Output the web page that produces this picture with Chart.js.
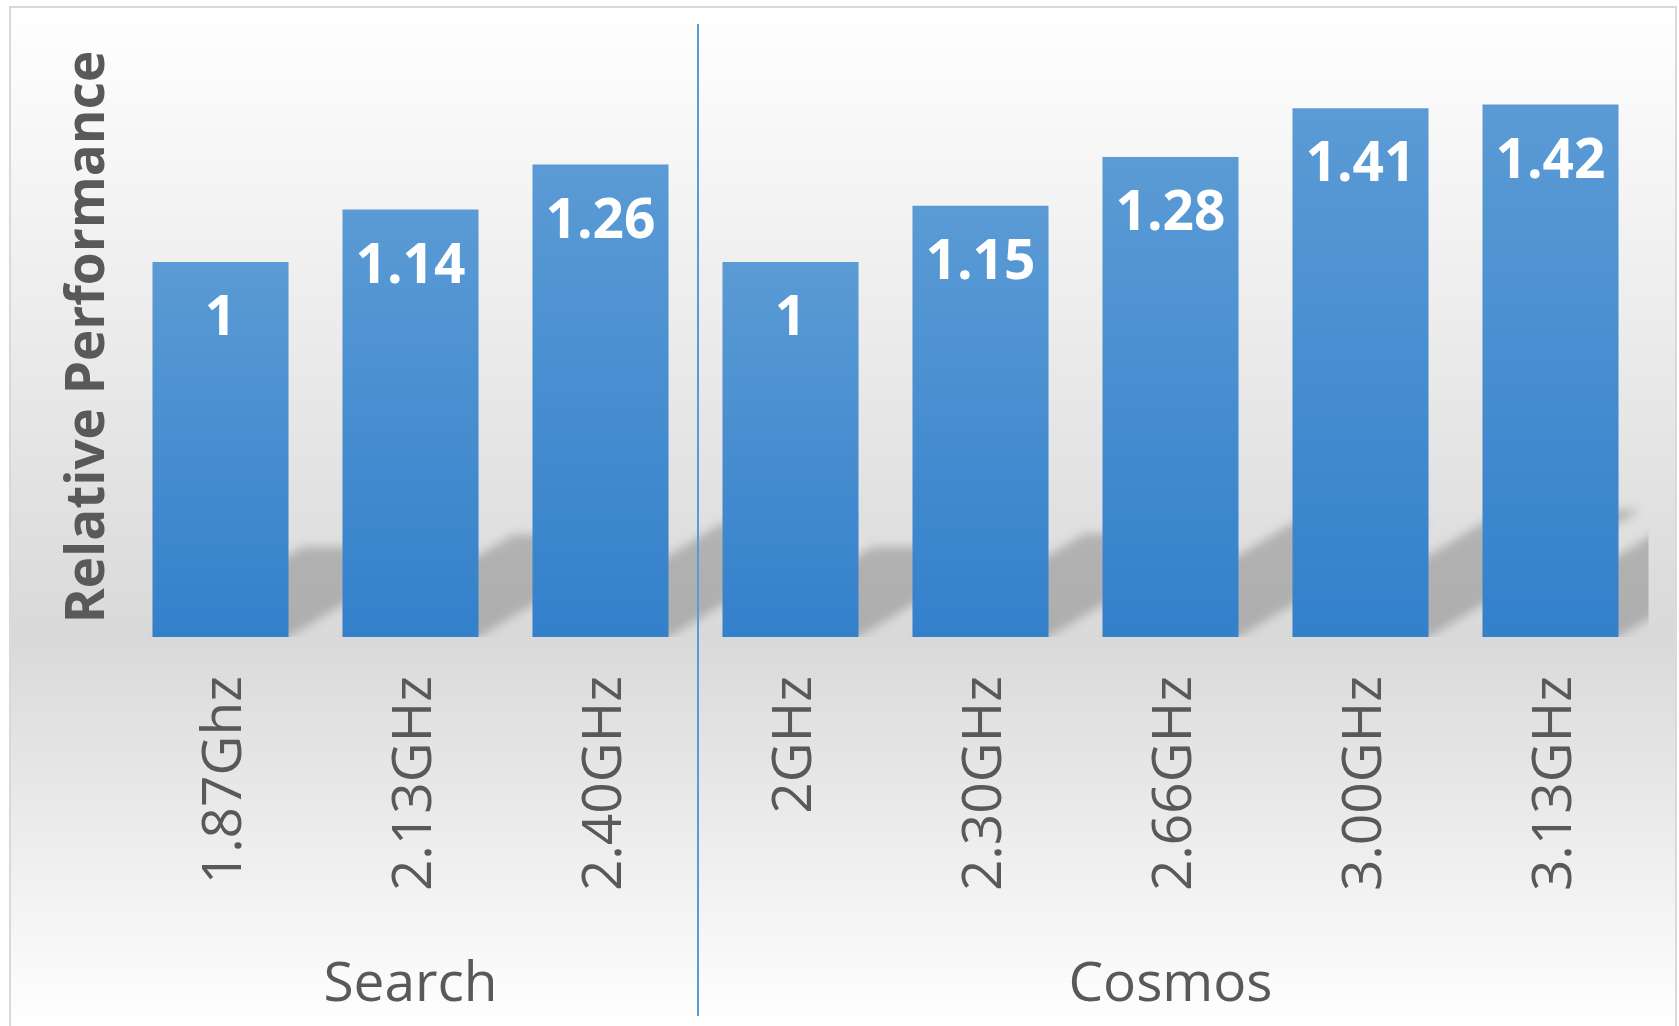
<!DOCTYPE html>
<html>
<head>
<meta charset="utf-8">
<title>Relative Performance</title>
<script src="https://cdn.jsdelivr.net/npm/chart.js@4.4.1/dist/chart.umd.min.js"></script>
<style>
  html, body { margin: 0; padding: 0; background: #fff; }
  canvas { display: block; }
</style>
</head>
<body>
<canvas id="perfChart" width="1679" height="1026"></canvas>
<script>
// Clock speeds per workload, performance relative to the slowest part
const frequencies = ['1.87Ghz', '2.13GHz', '2.40GHz', '2GHz', '2.30GHz', '2.66GHz', '3.00GHz', '3.13GHz'];
const relativePerf = [1, 1.14, 1.26, 1, 1.15, 1.28, 1.41, 1.42];

// Workload groups along the x axis (name + number of bars)
const groupNames = ['Search', 'Cosmos'];
const groupSizes = [3, 5];

const FONT = "'Open Sans', 'DejaVu Sans', sans-serif";
const TEXT_GRAY = '#595959';
const BAR_TOP = '#5b9bd5';
const BAR_BOTTOM = '#3380cb';

// Light-grey panel with a white -> grey -> white vertical fade
const panelBackground = {
  id: 'panelBackground',
  beforeDraw(chart) {
    const { ctx, width, height } = chart;
    ctx.save();
    ctx.fillStyle = '#ffffff';
    ctx.fillRect(0, 0, width, height);
    const g = ctx.createLinearGradient(0, 7, 0, height);
    g.addColorStop(0, '#ffffff');
    g.addColorStop(0.618, '#d9d9d9');
    g.addColorStop(1, '#ffffff');
    ctx.fillStyle = g;
    ctx.fillRect(10, 7, width - 13, height);
    ctx.strokeStyle = '#d9d9d9';
    ctx.lineWidth = 2;
    ctx.strokeRect(10, 7, width - 13, height + 10);
    ctx.restore();
  }
};

// Soft perspective shadow cast up and to the right behind each bar
const barShadows = {
  id: 'barShadows',
  beforeDatasetsDraw(chart) {
    const { ctx, chartArea } = chart;
    const meta = chart.getDatasetMeta(0);
    ctx.save();
    ctx.beginPath();
    ctx.rect(chartArea.left, 0, chartArea.right - chartArea.left + 3, chartArea.bottom);
    ctx.clip();
    ctx.filter = 'blur(5px)';
    ctx.fillStyle = 'rgba(0, 0, 0, 0.2)';
    meta.data.forEach(bar => {
      const { x, y, base, width } = bar.getProps(['x', 'y', 'base', 'width'], true);
      const xl = x - width / 2;
      const xr = x + width / 2;
      const hs = (base - y) * 0.24;
      const dx = hs / 0.6;
      ctx.beginPath();
      ctx.moveTo(xl, base);
      ctx.lineTo(xr, base);
      ctx.lineTo(xr + dx, base - hs);
      ctx.lineTo(xl + dx, base - hs);
      ctx.closePath();
      ctx.fill();
    });
    ctx.restore();
  }
};

// White value labels just inside the top of each bar
const valueLabels = {
  id: 'valueLabels',
  afterDatasetsDraw(chart) {
    const { ctx } = chart;
    const meta = chart.getDatasetMeta(0);
    ctx.save();
    ctx.font = `bold 55px ${FONT}`;
    ctx.fillStyle = '#ffffff';
    ctx.textAlign = 'center';
    ctx.textBaseline = 'alphabetic';
    meta.data.forEach((bar, i) => {
      ctx.fillText(String(relativePerf[i]), bar.x, bar.y + 73);
    });
    ctx.restore();
  }
};

// Group separator and group names under the rotated frequency labels
const groupAxis = {
  id: 'groupAxis',
  afterDraw(chart) {
    const { ctx } = chart;
    const xs = chart.scales.x;
    ctx.save();
    ctx.font = `55px ${FONT}`;
    ctx.fillStyle = TEXT_GRAY;
    ctx.textAlign = 'center';
    ctx.textBaseline = 'alphabetic';
    let start = 0;
    groupNames.forEach((name, g) => {
      const end = start + groupSizes[g] - 1;
      const cx = (xs.getPixelForValue(start) + xs.getPixelForValue(end)) / 2;
      ctx.fillText(name, cx, 1001);
      if (g < groupNames.length - 1) {
        const sep = Math.round((xs.getPixelForValue(end) + xs.getPixelForValue(end + 1)) / 2) + 2;
        ctx.strokeStyle = BAR_TOP;
        ctx.lineWidth = 2;
        ctx.beginPath();
        ctx.moveTo(sep, 24);
        ctx.lineTo(sep, 1016);
        ctx.stroke();
      }
      start = end + 1;
    });
    ctx.restore();
  }
};

function barGradient(c) {
  const chart = c.chart;
  const ys = chart.scales.y;
  if (!ys || c.type !== 'data') return BAR_TOP;
  const top = ys.getPixelForValue(c.raw);
  const bottom = ys.getPixelForValue(0);
  if (!isFinite(top) || !isFinite(bottom)) return BAR_TOP;
  const g = chart.ctx.createLinearGradient(0, top, 0, bottom);
  g.addColorStop(0, BAR_TOP);
  g.addColorStop(1, BAR_BOTTOM);
  return g;
}

Chart.defaults.font.family = FONT;

new Chart(document.getElementById('perfChart'), {
  type: 'bar',
  data: {
    labels: frequencies,
    datasets: [{
      label: 'Relative Performance',
      data: relativePerf,
      backgroundColor: barGradient,
      borderWidth: 0,
      categoryPercentage: 1,
      barPercentage: 0.716
    }]
  },
  options: {
    responsive: false,
    animation: false,
    devicePixelRatio: 1,
    layout: { padding: { top: 37, right: 33.5, bottom: 0, left: 0 } },
    plugins: {
      legend: { display: false },
      tooltip: { enabled: false }
    },
    scales: {
      x: {
        grid: { display: false, drawTicks: false },
        border: { display: false },
        ticks: {
          autoSkip: false,
          minRotation: 90,
          maxRotation: 90,
          padding: 39,
          labelOffset: 5,
          color: TEXT_GRAY,
          font: { size: 55 }
        },
        afterFit(scale) { scale.height = 389; }
      },
      y: {
        min: 0,
        max: 1.6,
        grid: { display: false },
        border: { display: false },
        ticks: { display: false },
        title: {
          display: true,
          text: 'Relative Performance',
          color: TEXT_GRAY,
          font: { size: 53, weight: 'bold' },
          padding: { top: 57, bottom: 0 }
        },
        afterFit(scale) { scale.width = 125.5; }
      }
    }
  },
  plugins: [panelBackground, barShadows, valueLabels, groupAxis]
});
</script>
</body>
</html>
